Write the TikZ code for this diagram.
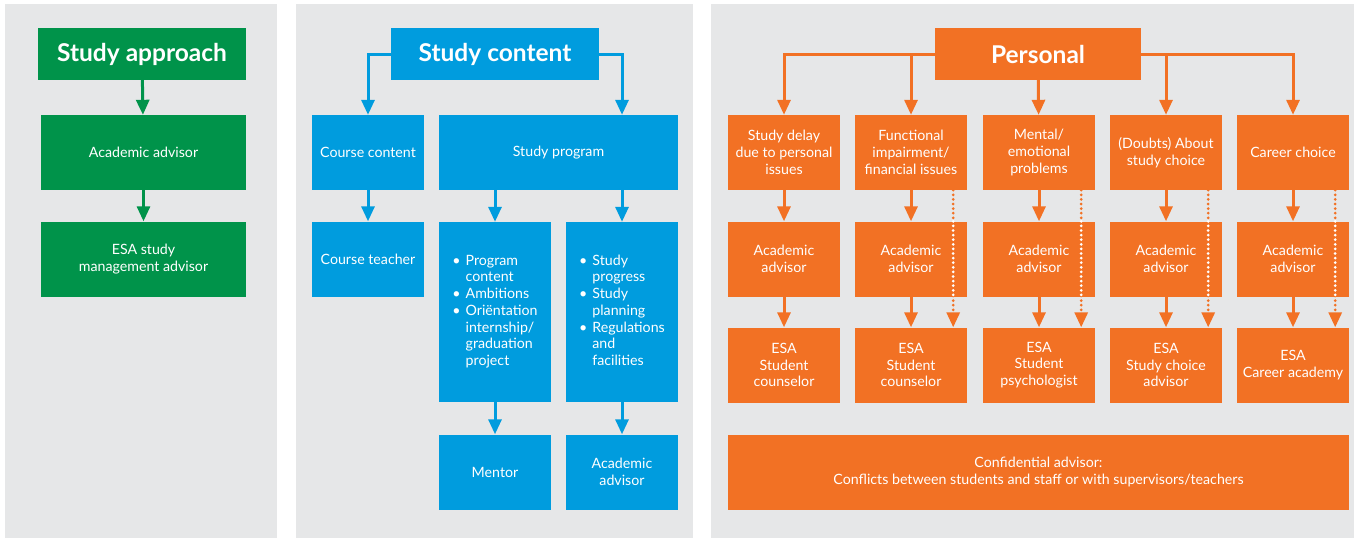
\documentclass[tikz,border=0pt]{standalone}
\usepackage{fontspec}
\setmainfont{Lato}
\usepackage{tikz}
\usetikzlibrary{arrows.meta,positioning}
\usepackage{xcolor}
\definecolor{esagreen}{RGB}{0,147,74}
\definecolor{esablue}{RGB}{0,156,222}
\definecolor{esaorange}{RGB}{242,113,36}
\definecolor{panelgray}{RGB}{230,231,232}
\tikzstyle{box} = [text=white, align=center, inner sep=0pt, minimum width=112, minimum height=75, font=\fontsize{14.2}{16.7}\selectfont]
\tikzstyle{header} = [box, minimum width=207, minimum height=52, font=\fontsize{24.5}{28}\selectfont\bfseries]
\tikzstyle{arrow} = [line width=3, -{Triangle[width=13,length=15]}]
\tikzstyle{dotarrow} = [line width=3, dash pattern=on 0pt off 4.6pt, line cap=round]

\begin{document}
\begin{tikzpicture}[x=1pt, y=-1pt]
  \useasboundingbox (0,0) rectangle (1354,539);
  % grey panels
  \fill[panelgray] (5,4) rectangle (277,538);
  \fill[panelgray] (296,4) rectangle (693,538);
  \fill[panelgray] (711,4) rectangle (1354,538);

  % Study approach
  \node [header, fill=esagreen, minimum width=208] (approach) at (142,54) {Study approach};
  \node [box, fill=esagreen, minimum width=205] (appadv) at (143.5,152.5) {Academic advisor};
  \node [box, fill=esagreen, minimum width=205] (appesa) at (143.5,259) {ESA study\\management advisor};
  \draw [arrow, esagreen] (approach) -- (appadv);
  \draw [arrow, esagreen] (appadv) -- (appesa);

  % Study content
  \node [header, fill=esablue, minimum width=208] (content) at (495,54) {Study content};
  \node [box, fill=esablue] (course) at (368,152.5) {Course content};
  \node [box, fill=esablue, minimum width=239] (program) at (558.5,152.5) {Study program};
  \node [box, fill=esablue] (teacher) at (368,259) {Course teacher};
  \node [box, fill=esablue, minimum height=180] (proglist) at (495,312)
  {\begin{tabular}{@{}l@{\hspace{5pt}}l@{}}
    \textbullet & Program\\ & content\\
    \textbullet & Ambitions\\
    \textbullet & Oriëntation\\ & internship/\\ & graduation\\ & project
  \end{tabular}};
  \node [box, fill=esablue, minimum height=180] (studylist) at (622,312)
  {\begin{tabular}{@{}l@{\hspace{5pt}}l@{}}
    \textbullet & Study\\ & progress\\
    \textbullet & Study\\ & planning\\
    \textbullet & Regulations\\ & and\\ & facilities
  \end{tabular}};
  \node [box, fill=esablue] (mentor) at (495,472) {Mentor};
  \node [box, fill=esablue] (contadv) at (622,472) {Academic\\advisor};
  \draw [arrow, esablue] (content.west) -| (course.north);
  \draw [arrow, esablue] (content.east) -| (program.north -| studylist.north);
  \draw [arrow, esablue] (course) -- (teacher);
  \draw [arrow, esablue] (program.south -| proglist.north) -- (proglist);
  \draw [arrow, esablue] (program.south -| studylist.north) -- (studylist);
  \draw [arrow, esablue] (proglist) -- (mentor);
  \draw [arrow, esablue] (studylist) -- (contadv);

  % Personal
  \node [header, fill=esaorange, minimum width=206] (personal) at (1038,54) {Personal};
  \node [box, fill=esaorange] (delay) at (784,152.5) {Study delay\\due to personal\\issues};
  \node [box, fill=esaorange] (impair) at (911,152.5) {Functional\\impairment/\\financial issues};
  \node [box, fill=esaorange] (mental) at (1039,152.5) {Mental/\\emotional\\problems};
  \node [box, fill=esaorange] (doubts) at (1166,152.5) {(Doubts) About\\study choice};
  \node [box, fill=esaorange] (career) at (1293,152.5) {Career choice};
  \node [box, fill=esaorange] (adv1) at (784,259) {Academic\\advisor};
  \node [box, fill=esaorange] (adv2) at (911,259) {Academic\\advisor};
  \node [box, fill=esaorange] (adv3) at (1039,259) {Academic\\advisor};
  \node [box, fill=esaorange] (adv4) at (1166,259) {Academic\\advisor};
  \node [box, fill=esaorange] (adv5) at (1293,259) {Academic\\advisor};
  \node [box, fill=esaorange] (esa1) at (784,365) {ESA\\Student\\counselor};
  \node [box, fill=esaorange] (esa2) at (911,365) {ESA\\Student\\counselor};
  \node [box, fill=esaorange] (esa3) at (1039,365) {ESA\\Student\\psychologist};
  \node [box, fill=esaorange] (esa4) at (1166,365) {ESA\\Study choice\\advisor};
  \node [box, fill=esaorange] (esa5) at (1293,365) {ESA\\Career academy};
  \node [box, fill=esaorange, minimum width=621] (confidential) at (1038.5,472)
  {Confidential advisor:\\Conflicts between students and staff or with supervisors/teachers};

  \draw [arrow, esaorange] (personal.west) -| (delay.north);
  \draw [arrow, esaorange] (impair.north |- personal.west) -- (impair.north);
  \draw [arrow, esaorange] (personal) -- (mental);
  \draw [arrow, esaorange] (doubts.north |- personal.east) -- (doubts.north);
  \draw [arrow, esaorange] (personal.east) -| (career.north);
  \draw [arrow, esaorange] (delay) -- (adv1);
  \draw [arrow, esaorange] (impair) -- (adv2);
  \draw [arrow, esaorange] (mental) -- (adv3);
  \draw [arrow, esaorange] (doubts) -- (adv4);
  \draw [arrow, esaorange] (career) -- (adv5);
  \draw [arrow, esaorange] (adv1) -- (esa1);
  \draw [arrow, esaorange] (adv2) -- (esa2);
  \draw [arrow, esaorange] (adv3) -- (esa3);
  \draw [arrow, esaorange] (adv4) -- (esa4);
  \draw [arrow, esaorange] (adv5) -- (esa5);

  % dotted short cuts past the academic advisor
  \foreach \top/\mid/\bot in {impair/adv2/esa2, mental/adv3/esa3, doubts/adv4/esa4, career/adv5/esa5} {
    \draw [arrow, dotarrow, esaorange] ([xshift=-14pt]\top.south east) -- ([xshift=-14pt]\bot.north east);
    \draw [dotarrow, white] ([xshift=-14pt]\mid.north east) -- ([xshift=-14pt]\mid.south east);
  }
\end{tikzpicture}
\end{document}
